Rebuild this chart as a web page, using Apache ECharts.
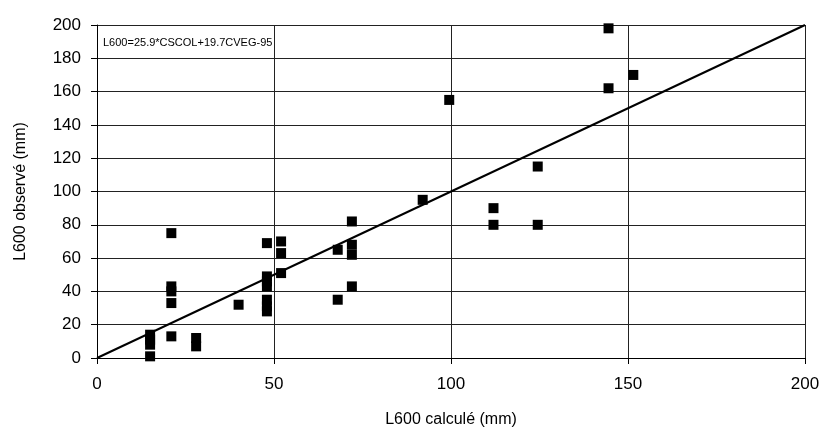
<!DOCTYPE html>
<html>
<head>
<meta charset="utf-8">
<script src="https://cdn.jsdelivr.net/npm/echarts@6/dist/echarts.min.js"></script>
<style>
  html, body { margin: 0; padding: 0; background: #fff; }
  #chart { width: 825px; height: 430px; }
</style>
</head>
<body>
<div id="chart"></div>
<script>
// valeurs
const calcule = [15, 15, 15, 15, 21, 21, 21, 21, 21, 28, 28, 40,
  48, 48, 48, 48, 48, 48, 48, 52, 52, 52, 68, 68, 72, 72, 72, 72,
  92, 99.5, 112, 112, 124.5, 124.5, 144.5, 144.5, 151.5];
const observe = [14, 11, 8, 1, 75, 43, 40, 33, 13, 12, 7, 32,
  69, 49, 46, 43, 35, 31, 28, 70, 63, 51, 65, 35, 82, 68, 62, 43,
  95, 155, 90, 80, 115, 80, 198, 162, 170];
const ligneX = [0, 200];
const ligneY = [0, 200];
const equation = 'L600=25.9*CSCOL+19.7CVEG-95';

const points = calcule.map((x, i) => [x, observe[i]]);
const ligne = ligneX.map((x, i) => [x, ligneY[i]]);

const myChart = echarts.init(document.getElementById('chart'));
const font = 'Arial, "Liberation Sans", sans-serif';

const option = {
  animation: false,
  title: {
    text: equation,
    left: 103,
    top: 37,
    padding: 0,
    textStyle: { fontSize: 11, fontWeight: 'normal', color: '#000', fontFamily: font }
  },
  grid: { left: 97, right: 20, top: 25, bottom: 72, outerBoundsMode: 'none' },
  xAxis: {
    type: 'value',
    min: 0, max: 200, interval: 50,
    name: 'L600 calculé (mm)',
    nameLocation: 'middle',
    nameGap: 54,
    nameTextStyle: { fontSize: 16, color: '#000', fontFamily: font },
    axisLine: { lineStyle: { color: '#000', width: 1 } },
    axisTick: { show: true, length: 6, lineStyle: { color: '#000' } },
    axisLabel: { fontSize: 17, color: '#000', margin: 18, fontFamily: font },
    splitLine: { show: true, lineStyle: { color: '#222', width: 1 } }
  },
  yAxis: {
    type: 'value',
    min: 0, max: 200, interval: 20,
    name: 'L600 observé (mm)',
    nameLocation: 'middle',
    nameGap: 68,
    nameTextStyle: { fontSize: 16, color: '#000', fontFamily: font },
    axisLine: { show: true, lineStyle: { color: '#000', width: 1 } },
    axisTick: { show: true, length: 6, lineStyle: { color: '#000' } },
    axisLabel: { fontSize: 17, color: '#000', margin: 16, fontFamily: font },
    splitLine: { show: true, lineStyle: { color: '#222', width: 1 } }
  },
  series: [
    {
      type: 'line',
      data: ligne,
      symbol: 'none',
      lineStyle: { color: '#000', width: 2 },
      z: 3
    },
    {
      type: 'scatter',
      data: points,
      symbol: 'rect',
      symbolSize: 10,
      itemStyle: { color: '#000', opacity: 1 },
      z: 4
    }
  ]
};

option && myChart.setOption(option);
</script>
</body>
</html>
